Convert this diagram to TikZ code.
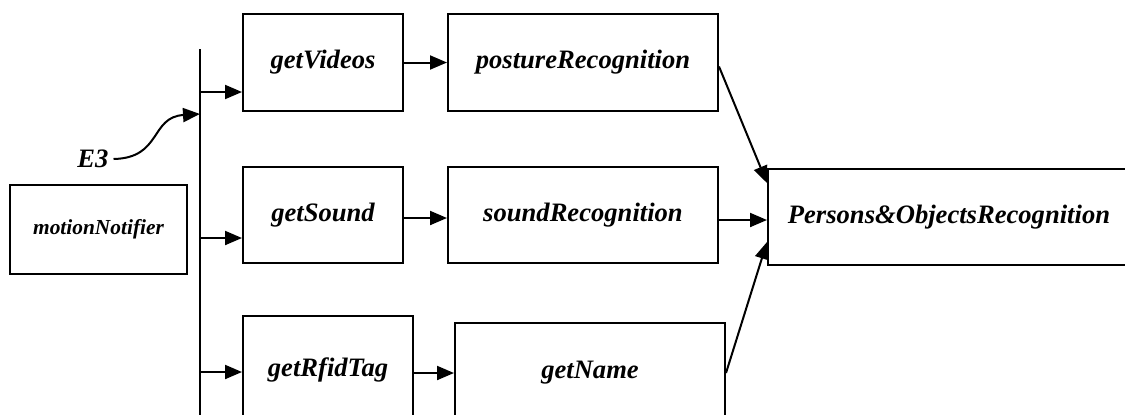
\documentclass[tikz,border=0pt]{standalone}
\usepackage{fontspec}
\setmainfont{Liberation Serif}
\usetikzlibrary{positioning,arrows.meta,calc}

\begin{document}
\begin{tikzpicture}[x=0.5pt,y=-0.5pt,line width=1pt,
  blk/.style={draw,line width=1pt,inner sep=0pt,minimum height=48.5pt,
    font=\fontsize{13.3}{16}\selectfont\bfseries\itshape},
  lbl/.style={inner sep=2pt,font=\fontsize{13.3}{16}\selectfont\bfseries\itshape},
  tri/.style={-{Triangle[length=8.5pt,width=7pt]}}]
\useasboundingbox (0,0) rectangle (1125,414);
\clip (0,0) rectangle (1125,414);
% ===== notifier, event and bus =====
\node[blk,minimum width=88.5pt,minimum height=44.5pt,
  font=\fontsize{10.7}{13}\selectfont\bfseries\itshape] (notifier) at (98.5,229.5){motionNotifier};
\node[lbl] (evt) at (93,159){E3};
\coordinate (bustop) at (200,49);
\coordinate (busbot) at (200,420);
\coordinate (busin) at (200,114);
\draw (bustop)--(busbot);
\draw[tri] (evt.east) .. controls (162,158) and (150,117) .. (busin);
% ===== three branches =====
\node[blk,minimum width=80pt] (getVideos) at (323,62.5){getVideos};
\node[blk,minimum width=135pt] (posture) at (583,62.5){postureRecognition};
\node[blk,minimum width=80pt,minimum height=48pt] (getSound) at (323,215){getSound};
\node[blk,minimum width=135pt,minimum height=48pt] (soundRec) at (583,215){soundRecognition};
\node[blk,minimum width=85pt,minimum height=54pt] (getRfid) at (328,370){getRfidTag};
\node[blk,minimum width=135pt,minimum height=50pt] (getName) at (590,373){getName};
\coordinate (bus1) at (200,92);
\coordinate (bus2) at (200,238);
\coordinate (bus3) at (200,372);
\draw[tri] (bus1)--(bus1 -| getVideos.west);
\draw[tri] (bus2)--(bus2 -| getSound.west);
\draw[tri] (bus3)--(bus3 -| getRfid.west);
\draw[tri] (getVideos)--(posture);
\draw[tri] (getSound.east |- 0,218)--(soundRec.west |- 0,218);
\draw[tri] (getRfid.east |- getName)--(getName.west);
% ===== recognition result =====
\node[blk,minimum width=181pt,minimum height=48pt] (persons) at (949,217){Persons\&ObjectsRecognition};
\draw[tri] ($(posture.east)+(0,4)$)--($(persons.west)+(0,-34)$);
\draw[tri] (soundRec.east |- 0,220)--(persons.west |- 0,220);
\draw[tri] (getName.east)--($(persons.west)+(0,25)$);
\end{tikzpicture}
\end{document}
